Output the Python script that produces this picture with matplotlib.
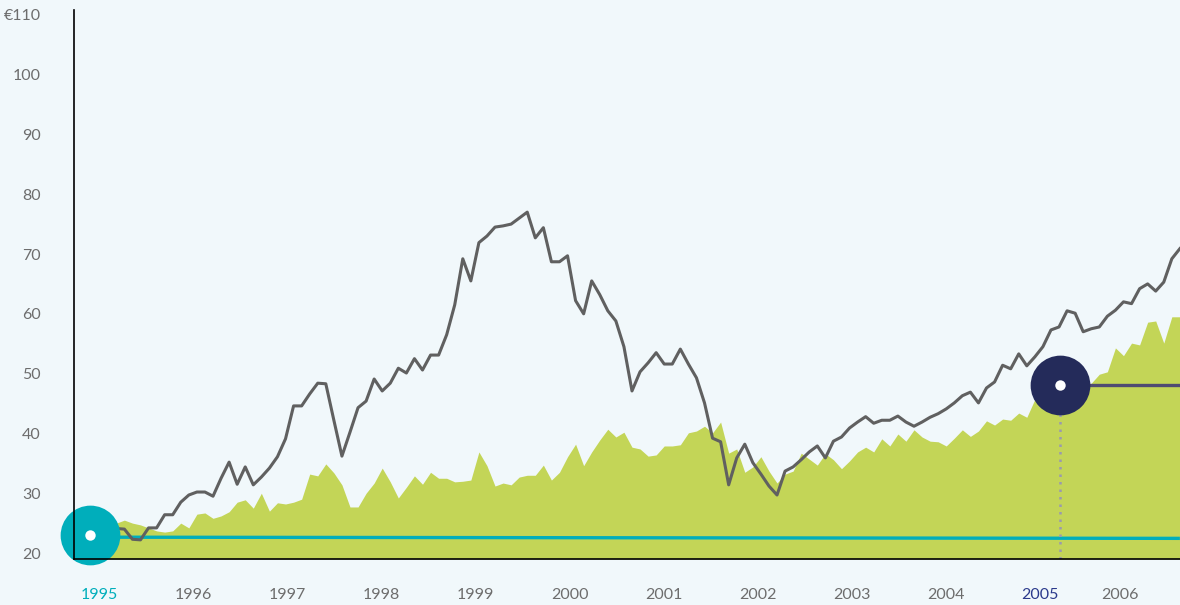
import numpy as np
import matplotlib.pyplot as plt

plt.rcParams['font.family'] = ['Lato', 'DejaVu Sans']

# fund index (grey line) and benchmark (green area), periodic values
fund = [23.0, 24.1, 24.0, 22.3, 22.2, 24.2, 24.2, 26.4, 26.4, 28.5,
        29.7, 30.2, 30.2, 29.5, 32.5, 35.2, 31.5, 34.4, 31.4, 32.7,
        34.2, 36.1, 39.1, 44.6, 44.6, 46.6, 48.4, 48.3, 42.2, 36.2,
        40.2, 44.3, 45.4, 49.1, 47.1, 48.4, 50.9, 50.1, 52.5, 50.6,
        53.1, 53.1, 56.5, 61.5, 69.2, 65.5, 71.9, 73.0, 74.5, 74.7,
        75.0, 76.0, 77.0, 72.7, 74.4, 68.7, 68.7, 69.7, 62.2, 60.0,
        65.5, 63.2, 60.5, 58.8, 54.5, 47.1, 50.3, 51.8, 53.5, 51.6,
        51.6, 54.1, 51.6, 49.3, 45.1, 39.2, 38.6, 31.4, 35.9, 38.2,
        35.1, 33.2, 31.2, 29.7, 33.7, 34.4, 35.6, 36.9, 37.9, 35.9,
        38.7, 39.4, 40.9, 41.9, 42.8, 41.7, 42.2, 42.2, 42.9, 41.9,
        41.2, 41.9, 42.7, 43.3, 44.1, 45.1, 46.3, 46.9, 45.1, 47.6,
        48.6, 51.4, 50.8, 53.3, 51.3, 52.8, 54.5, 57.3, 57.8, 60.5,
        60.1, 57.0, 57.5, 57.8, 59.6, 60.6, 62.0, 61.7, 64.2, 65.0,
        63.8, 65.3, 69.2, 70.9]

bench = [23.5, 25.0, 25.5, 25.0, 24.7, 24.2, 23.7, 23.5, 23.7, 25.0,
         24.2, 26.5, 26.7, 25.8, 26.2, 26.9, 28.5, 28.9, 27.5, 30.0,
         27.0, 28.4, 28.2, 28.5, 29.0, 33.2, 32.9, 34.9, 33.4, 31.4,
         27.7, 27.7, 30.0, 31.7, 34.2, 31.9, 29.2, 31.0, 32.9, 31.5,
         33.5, 32.5, 32.5, 31.9, 32.0, 32.2, 36.9, 34.6, 31.2, 31.7,
         31.4, 32.7, 33.0, 33.0, 34.7, 32.2, 33.5, 36.1, 38.2, 34.6,
         36.9, 38.9, 40.7, 39.4, 40.2, 37.7, 37.4, 36.2, 36.4, 37.9,
         37.9, 38.1, 40.1, 40.4, 41.2, 40.1, 41.9, 36.7, 37.4, 33.5,
         34.4, 36.1, 33.7, 31.7, 33.2, 33.7, 36.7, 35.7, 34.7, 36.6,
         35.6, 34.1, 35.4, 36.9, 37.7, 36.9, 39.1, 37.9, 39.9, 38.7,
         40.6, 39.4, 38.7, 38.6, 37.9, 39.2, 40.6, 39.5, 40.4, 42.1,
         41.4, 42.4, 42.2, 43.4, 42.7, 45.7, 45.1, 46.0, 46.8, 47.2,
         47.5, 47.8, 48.4, 49.9, 50.3, 54.3, 53.0, 55.1, 54.8, 58.6,
         58.8, 55.1, 59.5, 59.5]

t_start = 1995.1
t_step = 0.0856
t = t_start + np.arange(len(fund)) * t_step

# cash line: start / end values
cash_t = [1994.906, t[-1]]
cash = [22.65, 22.45]

# highlighted points
start_point = (1994.906, 23.0)
mark_point = (2005.21, 48.1)

years = list(range(1995, 2007))
year_pos = [1995, 1996, 1997, 1998, 1999, 2000, 2001, 2002, 2003, 2004, 2005, 2005.85]
yticks = [20, 30, 40, 50, 60, 70, 80, 90, 100, 110]
ylabels = ['20', '30', '40', '50', '60', '70', '80', '90', '100', '€110']

bg = '#f1f8fb'
green = '#c3d557'
grey = '#606060'
teal = '#00aebb'
navy = '#242b5a'

fig = plt.figure(figsize=(11.8, 6.05), dpi=100, facecolor=bg)
ax = fig.add_axes([74 / 1180, 1 - 559 / 605, 1 - 74 / 1180, 549 / 605])
ax.set_facecolor(bg)

ax.fill_between(t, 19, bench, color=green, lw=0, zorder=1)
ax.plot(cash_t, cash, color=teal, lw=2.4, zorder=2, solid_capstyle='butt')
ax.plot(t, fund, color=grey, lw=2.2, zorder=3)

# marker line to the right and dotted drop line
ax.plot([mark_point[0], 2006.6], [mark_point[1], mark_point[1]],
        color='#4f4b72', lw=2.4, zorder=4)
ax.plot([mark_point[0], mark_point[0]], [19, mark_point[1]],
        color='#9a9aae', lw=1.8, ls=(0, (1, 2)), zorder=4)

ax.plot(*start_point, 'o', ms=43, color=teal, mec='none', zorder=5, clip_on=False)
ax.plot(*start_point, 'o', ms=7.5, color='white', mec='none', zorder=6, clip_on=False)
ax.plot(*mark_point, 'o', ms=43, color=navy, mec='none', zorder=5, clip_on=False)
ax.plot(*mark_point, 'o', ms=7.5, color='white', mec='none', zorder=6, clip_on=False)

ax.set_xlim(1994.736, 2006.486)
ax.set_ylim(19, 110.8)

ax.spines['top'].set_visible(False)
ax.spines['right'].set_visible(False)
for s in ['left', 'bottom']:
    ax.spines[s].set_color('black')
    ax.spines[s].set_linewidth(1.2)
    ax.spines[s].set_zorder(7)

ax.set_yticks(yticks)
ax.set_yticklabels(ylabels)
ax.set_xticks(year_pos)
ax.set_xticklabels([str(y) for y in years])
ax.tick_params(axis='y', length=0, pad=24, labelsize=11.5, labelcolor='#6d6d6d')
ax.tick_params(axis='x', length=0, pad=21, labelsize=11.5, labelcolor='#6d6d6d')
xl = ax.get_xticklabels()
xl[0].set_color(teal)
xl[10].set_color('#2b3a8c')

plt.savefig('out.png', dpi=100, facecolor=bg)
plt.close(fig)
